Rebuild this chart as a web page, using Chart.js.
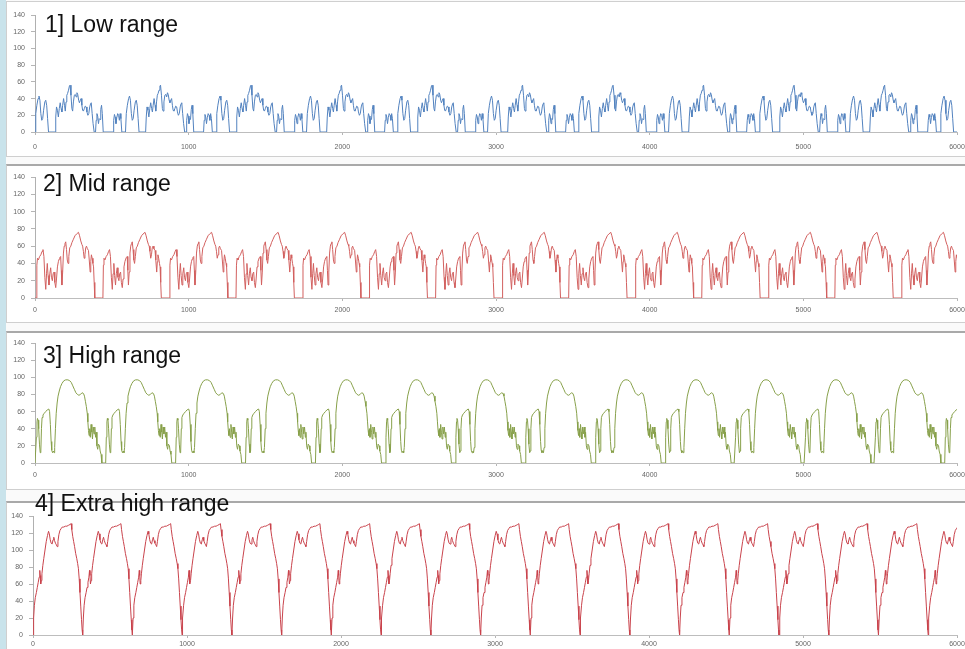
<!DOCTYPE html>
<html>
<head>
<meta charset="utf-8">
<script src="https://cdn.jsdelivr.net/npm/chart.js@4.4.0/dist/chart.umd.min.js"></script>
<style>
  html, body { margin:0; padding:0; }
  body { width:965px; height:649px; overflow:hidden; position:relative; background:#fafafa; font-family:"Liberation Sans", Arial, sans-serif; }
  .strip { position:absolute; left:0; top:0; width:6px; height:649px; background:#c9e3eb; }
  .panel { position:absolute; left:6px; width:975px; background:#fff; border:1px solid #cfcfcf; box-sizing:border-box; }
  .wrap { position:absolute; left:0; width:990px; }
  .title { position:absolute; font-size:23px; line-height:23px; color:#111; white-space:nowrap; }
</style>
</head>
<body>
<div class="strip"></div>
<div id="root"></div>
<script>
// x ticks / y ticks
const xTicks = [0, 1000, 2000, 3000, 4000, 5000, 6000];
const yTicks = [0, 20, 40, 60, 80, 100, 120, 140];

// 1] Low range - one cycle (s, km/h), repeats every 589 s
const lowPeriod = 589;
const lowT = [0,5,12,20,26,32,38,44,50,56,64,70,76,82,88,131,135,140,146,152,158,164,170,175,180,186,192,197,202,207,212,218,224,228,234,240,245,250,256,262,268,273,278,284,289,295,300,305,310,315,321,327,333,338,344,350,356,362,366,372,378,385,394,398,403,408,413,418,423,428,433,438,444,508,512,517,522,527,532,538,544,549,554,559,565];
const lowV = [0,22,32,40,43,38,22,14,16,26,36,38,32,16,0,0,18,30,26,18,28,35,28,24,32,40,32,25,36,44,46,50,55,56,44,28,25,36,44,45,42,47,45,38,35,38,40,32,26,25,28,31,30,24,20,22,30,34,35,22,10,0,0,14,22,19,10,16,15,27,32,22,0,0,14,21,18,10,17,22,20,14,22,16,0];

// 2] Mid range - one cycle, 433 s
const midPeriod = 433;
const midT = [0,9,12,16,22,30,38,46,52,58,64,70,75,80,85,91,96,102,107,113,118,124,129,135,140,146,152,157,162,167,171,175,180,185,190,195,200,205,210,215,220,226,233,240,250,260,270,283,290,298,305,310,315,320,325,330,335,341,348,353,359,363,367,372,377,381,385,389];
const midV = [0,0,38,46,44,48,50,54,56,48,24,10,28,40,26,15,28,35,24,20,28,30,18,12,22,36,42,45,47,48,32,15,30,52,60,63,65,56,44,40,48,58,60,64,68,72,74,76,72,66,62,60,54,46,50,58,60,57,55,44,30,42,50,46,40,36,18,0];

// 3] High range - one cycle, 455 s
const highPeriod = 455;
const highT = [0,5,9,13,16,20,24,29,34,38,42,46,52,60,70,80,90,95,100,105,109,114,120,124,128,133,138,144,150,158,166,176,188,200,214,226,236,246,256,266,276,286,296,306,316,322,328,334,340,344,348,352,356,360,365,370,374,379,384,389,394,398,403,408,413,420,424,430,435];
const highV = [0,0,30,48,52,50,40,22,12,14,40,53,56,58,60,62,63,60,45,25,15,12,14,12,18,40,58,70,78,84,89,93,96,97,97,96,94,90,86,82,80,79,80,82,81,78,72,66,58,48,38,32,40,30,45,36,28,42,34,42,30,36,20,16,22,20,14,10,0];

// 4] Extra high range - one cycle, 323 s
const xhighPeriod = 323;
const xhighT = [0,4,9,15,22,28,34,40,44,47,50,54,58,64,70,78,86,94,101,106,112,118,124,130,135,140,146,152,157,162,168,175,182,190,200,210,220,230,240,248,252,258,264,270,277,284,290,295,300,305,310,315,319,322];
const xhighV = [0,20,35,44,50,56,62,68,76,70,60,64,72,82,90,100,110,117,122,119,112,108,107,112,115,111,108,106,104,110,118,123,125,127,127,128,128,129,130,131,124,116,110,104,96,90,84,78,66,50,34,18,6,0];

// lay the read cycle end to end across the 0-6000 s window
function tile(ts, vs, period) {
  const pts = [];
  for (let start = 0; start <= 6000; start += period) {
    ts.forEach((t, i) => pts.push({ x: start + t, y: vs[i] }));
  }
  return pts;
}

const panels = [
  { title:'1] Low range',        t:lowT,   v:lowV,   period:lowPeriod,   color:'#5282bf', top:1,   bottom:157, y140:15,  y0:132, x0:35, xPad:8, titleX:45, titleY:13 },
  { title:'2] Mid range',        t:midT,   v:midV,   period:midPeriod,   color:'#d2605f', top:164, bottom:323, y140:177, y0:298, x0:35, xPad:5, titleX:43, titleY:172 },
  { title:'3] High range',       t:highT,  v:highV,  period:highPeriod,  color:'#87a04a', top:331, bottom:490, y140:343, y0:463, x0:35, xPad:5, titleX:43, titleY:344 },
  { title:'4] Extra high range', t:xhighT, v:xhighV, period:xhighPeriod, color:'#c9434c', top:501, bottom:652, y140:516, y0:635, x0:33, xPad:2, titleX:35, titleY:492 }
];

const root = document.getElementById('root');
const plotRight = 957, canvasW = 990;

panels.forEach((p, i) => {
  const panel = document.createElement('div');
  panel.className = 'panel';
  panel.style.top = p.top + 'px';
  panel.style.height = (p.bottom - p.top) + 'px';
  if (i > 0) panel.style.borderTop = '2px solid #a9a9a9';
  root.appendChild(panel);

  const wrap = document.createElement('div');
  wrap.className = 'wrap';
  wrap.style.top = p.top + 'px';
  wrap.style.height = (p.bottom - p.top) + 'px';
  const cv = document.createElement('canvas');
  wrap.appendChild(cv);
  root.appendChild(wrap);

  const title = document.createElement('div');
  title.className = 'title';
  title.textContent = p.title;
  title.style.left = p.titleX + 'px';
  title.style.top = p.titleY + 'px';
  root.appendChild(title);

  new Chart(cv, {
    type: 'line',
    data: { datasets: [{ data: tile(p.t, p.v, p.period), borderColor: p.color, borderWidth: 1, pointRadius: 0, tension: 0, fill: false }] },
    options: {
      responsive: true, maintainAspectRatio: false, animation: false,
      layout: { padding: { top: p.y140 - p.top, right: canvasW - plotRight, bottom: 0, left: 0 } },
      plugins: { legend: { display: false }, tooltip: { enabled: false } },
      scales: {
        x: {
          type: 'linear', min: 0, max: 6000,
          afterBuildTicks: s => { s.ticks = xTicks.map(v => ({ value: v })); },
          afterFit: s => { s.height = p.bottom - p.y0; },
          grid: { drawOnChartArea: false, drawTicks: true, tickLength: 3, color: '#b5b5b5' },
          border: { display: true, color: '#bdbdbd' },
          ticks: { color: '#666', font: { size: 7, family: 'Liberation Sans' }, padding: p.xPad, maxRotation: 0, autoSkip: false, callback: v => String(v) }
        },
        y: {
          min: 0, max: 140,
          afterBuildTicks: s => { s.ticks = yTicks.map(v => ({ value: v })); },
          afterFit: s => { s.width = p.x0; },
          grid: { drawOnChartArea: false, drawTicks: true, tickLength: 4, color: '#b5b5b5' },
          border: { display: true, color: '#b0b0b0' },
          ticks: { color: '#666', font: { size: 7, family: 'Liberation Sans' }, padding: 6 }
        }
      }
    }
  });
});
</script>
</body>
</html>
